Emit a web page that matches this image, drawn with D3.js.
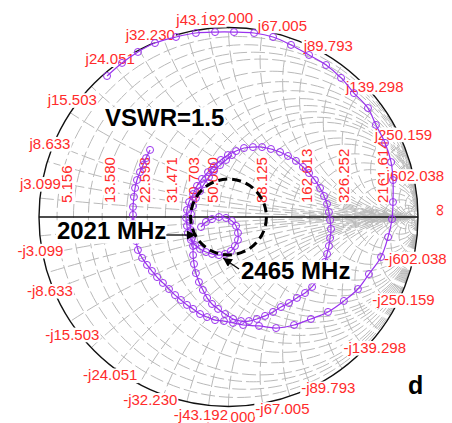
<!DOCTYPE html>
<html>
<head>
<meta charset="utf-8">
<script src="https://cdn.jsdelivr.net/npm/d3@7"></script>
<style>
  html, body { margin: 0; padding: 0; background: #fff; }
  svg { display: block; }
</style>
</head>
<body>
<svg id="chart" width="452" height="423"></svg>
<script>
// ---- Smith chart definition (Z0 = 50 ohm) ----
const z0 = 50;

// Normalised grid circles / arcs
const resistanceGrid = [0.05, 0.1, 0.15, 0.2, 0.3, 0.4, 0.5, 0.6, 0.7, 0.8, 0.9, 1, 1.2, 1.4, 1.6, 2, 2.5, 3, 4, 5, 7, 10, 15, 20, 30, 50];
const reactanceGrid = [0.05, 0.1, 0.15, 0.2, 0.3, 0.4, 0.5, 0.6, 0.7, 0.8, 0.9, 1, 1.2, 1.4, 1.6, 2, 2.5, 3, 4, 5, 7, 10, 15, 20, 30, 50];

// Labelled values in ohms
const resistanceLabels = ["5.156", "13.580", "22.598", "31.471", "40.703", "50.000", "88.125", "162.613", "326.252", "2161.614"];
const reactanceLabels = ["50.000", "3.099", "8.633", "15.503", "24.051", "32.230", "43.192", "67.005", "89.793", "139.298", "250.159", "602.038"];

// Measured reflection coefficient sweeps [re, im]
const outerSweep = [
  [-0.641, 0.744], [-0.562, 0.813], [-0.478, 0.871], [-0.388, 0.918], [-0.277, 0.950], [-0.172, 0.971],
  [-0.071, 0.976], [0.029, 0.976], [0.135, 0.971], [0.235, 0.950], [0.330, 0.908], [0.425, 0.855],
  [0.515, 0.802], [0.594, 0.734], [0.662, 0.654], [0.736, 0.575], [0.778, 0.486], [0.826, 0.391],
  [0.858, 0.290], [0.868, 0.195], [0.868, 0.079], [0.863, -0.011], [0.842, -0.106], [0.805, -0.211],
  [0.741, -0.301], [0.683, -0.380], [0.609, -0.443], [0.525, -0.501], [0.435, -0.538], [0.346, -0.570],
  [0.251, -0.586], [0.161, -0.575], [0.077, -0.570], [0.024, -0.559], [-0.024, -0.549], [-0.071, -0.544],
  [-0.113, -0.528], [-0.150, -0.512], [-0.187, -0.485], [-0.219, -0.464], [-0.251, -0.438], [-0.282, -0.412],
  [-0.314, -0.380], [-0.346, -0.348], [-0.377, -0.317], [-0.404, -0.285], [-0.430, -0.253], [-0.456, -0.216],
  [-0.478, -0.174], [-0.488, -0.127], [-0.499, -0.079], [-0.504, -0.032], [-0.504, 0.011], [-0.504, 0.053],
  [-0.499, 0.106], [-0.493, 0.153], [-0.483, 0.195], [-0.467, 0.237], [-0.451, 0.274], [-0.435, 0.311],
  [-0.414, 0.354]
];

const innerSweep = [
  [0.018, 0.327], [-0.013, 0.301], [-0.045, 0.274], [-0.077, 0.243], [-0.103, 0.211], [-0.129, 0.174],
  [-0.150, 0.137], [-0.172, 0.100], [-0.187, 0.058], [-0.198, 0.016], [-0.203, -0.026], [-0.198, -0.069],
  [-0.193, -0.111], [-0.187, -0.153], [-0.187, -0.201], [-0.182, -0.248], [-0.172, -0.296], [-0.156, -0.343],
  [-0.135, -0.385], [-0.113, -0.427], [-0.087, -0.459], [-0.055, -0.485], [-0.018, -0.512], [0.024, -0.538],
  [0.066, -0.549], [0.108, -0.549], [0.150, -0.538], [0.193, -0.522], [0.235, -0.501], [0.277, -0.475],
  [0.319, -0.454], [0.361, -0.427], [0.404, -0.401], [0.441, -0.369], [0.472, -0.327], [0.493, -0.280],
  [0.509, -0.237], [0.520, -0.195], [0.530, -0.153], [0.536, -0.111], [0.541, -0.063], [0.536, -0.016],
  [0.530, 0.026], [0.520, 0.069], [0.504, 0.111], [0.483, 0.153], [0.456, 0.195], [0.425, 0.232],
  [0.393, 0.264], [0.356, 0.296], [0.314, 0.322], [0.272, 0.343], [0.224, 0.359], [0.177, 0.369],
  [0.129, 0.369], [0.082, 0.364], [0.040, 0.348], [-0.003, 0.327], [-0.040, 0.301], [-0.077, 0.269],
  [-0.108, 0.237], [-0.140, 0.201], [-0.166, 0.164], [-0.187, 0.121], [-0.208, 0.079], [-0.219, 0.037],
  [-0.224, -0.005], [-0.219, -0.047], [-0.214, -0.084], [-0.198, -0.121], [-0.177, -0.148], [-0.150, -0.169],
  [-0.119, -0.185], [-0.087, -0.195], [-0.050, -0.201], [-0.018, -0.195], [0.013, -0.179], [0.034, -0.153],
  [0.050, -0.121], [0.050, -0.084], [0.040, -0.047], [0.018, -0.021], [-0.013, -0.005], [-0.050, 0.000],
  [-0.087, -0.011], [-0.119, -0.026], [-0.145, -0.053]
];

// Band edge annotations: frequency text and the sweep point it refers to [re, im]
const bandLabels = ["2021 MHz", "2465 MHz"];
const bandPoints = [[-0.172, -0.095], [-0.029, -0.216]];

const vswr = 1.5;
const panelTag = "d";

// ---- Drawing ----
const svg = d3.select("#chart");
const x = d3.scaleLinear().domain([-1, 1]).range([39, 418]);
const y = d3.scaleLinear().domain([-1, 1]).range([406.5, 27.5]);
const rad = v => x(v) - x(0);

const gridColor = "#b9b9b9";
const traceColor = "#9a33ee";
const labelColor = "#ff2b2b";
const font = "'Liberation Sans', Arial, sans-serif";

svg.append("defs").append("clipPath").attr("id", "disc")
  .append("circle").attr("cx", x(0)).attr("cy", y(0)).attr("r", rad(1));

svg.select("defs").append("marker")
  .attr("id", "arrow").attr("viewBox", "0 0 10 10")
  .attr("refX", 10).attr("refY", 5)
  .attr("markerWidth", 11).attr("markerHeight", 9)
  .attr("markerUnits", "userSpaceOnUse")
  .attr("orient", "auto")
  .append("path").attr("d", "M0,0 L10,5 L0,10 Z").attr("fill", "#000");

// grid: constant resistance circles and constant reactance arcs
const grid = svg.append("g").attr("clip-path", "url(#disc)")
  .attr("fill", "none").attr("stroke", gridColor).attr("stroke-width", 1)
  .attr("stroke-dasharray", "14,4");

grid.selectAll("circle.r").data(resistanceGrid).join("circle")
  .attr("class", "r")
  .attr("cx", r => x(r / (1 + r))).attr("cy", y(0))
  .attr("r", r => rad(1 / (1 + r)));

const reactanceBoth = reactanceGrid.flatMap(v => [v, -v]);
grid.selectAll("circle.x").data(reactanceBoth).join("circle")
  .attr("class", "x")
  .attr("cx", x(1)).attr("cy", v => y(1 / v))
  .attr("r", v => rad(1 / Math.abs(v)));

// outer boundary and real axis
svg.append("circle").attr("cx", x(0)).attr("cy", y(0)).attr("r", rad(1))
  .attr("fill", "none").attr("stroke", "#111").attr("stroke-width", 1.4);
svg.append("line").attr("x1", x(-1)).attr("x2", x(1)).attr("y1", y(0)).attr("y2", y(0))
  .attr("stroke", "#111").attr("stroke-width", 1.4);

// text with a tight white backing box
function boxedText(g, str, size, weight, color, anchor) {
  const t = g.append("text").text(str)
    .attr("font-family", font).attr("font-size", size).attr("font-weight", weight)
    .attr("fill", color).attr("text-anchor", anchor);
  const bb = t.node().getBBox();
  g.insert("rect", "text")
    .attr("x", bb.x - 1).attr("y", bb.y + bb.height * 0.12)
    .attr("width", bb.width + 2).attr("height", bb.height * 0.86)
    .attr("fill", "#fff");
  return t;
}

// resistance labels along the real axis (rotated)
const rLab = svg.append("g");
resistanceLabels.forEach(s => {
  const r = +s / z0;
  const g0 = (r - 1) / (r + 1);
  const bx = x(g0) - 11 - 11 * g0;
  const g = rLab.append("g").attr("transform", `translate(${bx},${y(0) - 14}) rotate(-90)`);
  boxedText(g, s, 15, "normal", labelColor, "start");
});

// reactance labels round the rim
const xLab = svg.append("g");
reactanceLabels.forEach(s => {
  const v = +s / z0;
  const re = (v * v - 1) / (v * v + 1);
  const im = 2 * v / (v * v + 1);
  [1, -1].forEach(sign => {
    const px = x(re), py = y(sign * im);
    const g = xLab.append("g").attr("transform", `translate(${px},${py + (sign > 0 ? -4.6 : 15.4)})`);
    boxedText(g, (sign > 0 ? "j" : "-j") + s, 15, "normal", labelColor, "middle");
  });
});
xLab.append("text").text("\u221E")
  .attr("transform", `translate(${x(1) + 22},${y(0) - 7}) rotate(90)`)
  .attr("font-family", font).attr("font-size", 17).attr("fill", labelColor)
  .attr("text-anchor", "middle").attr("dominant-baseline", "central");

// sweeps
const line = d3.line().x(d => x(d[0])).y(d => y(d[1])).curve(d3.curveCatmullRom.alpha(0.5));
[outerSweep, innerSweep].forEach(data => {
  const g = svg.append("g");
  g.append("path").datum(data).attr("d", line)
    .attr("fill", "none").attr("stroke", traceColor).attr("stroke-width", 1.2);
  g.selectAll("circle").data(data).join("circle")
    .attr("cx", d => x(d[0])).attr("cy", d => y(d[1])).attr("r", 3.5)
    .attr("fill", "none").attr("stroke", traceColor).attr("stroke-width", 1);
});

// VSWR circle
const gv = (vswr - 1) / (vswr + 1);
svg.append("circle").attr("cx", x(0)).attr("cy", y(0)).attr("r", rad(gv))
  .attr("fill", "none").attr("stroke", "#000").attr("stroke-width", 3)
  .attr("stroke-dasharray", "9,5");

// annotations
const ann = svg.append("g");
{
  const g = ann.append("g").attr("transform", "translate(105,126)");
  boxedText(g, `VSWR=${vswr}`, 24, "bold", "#000", "start");
}
{
  const [re, im] = bandPoints[0];
  const tx = x(re), ty = y(im);
  const g = ann.append("g").attr("transform", `translate(${tx - 139},${ty + 4})`);
  const t = boxedText(g, bandLabels[0], 24, "bold", "#000", "start");
  const w = t.node().getComputedTextLength();
  ann.append("line").attr("x1", tx - 139 + w).attr("y1", ty).attr("x2", tx).attr("y2", ty)
    .attr("stroke", "#000").attr("stroke-width", 1.3).attr("marker-end", "url(#arrow)");
}
{
  const [re, im] = bandPoints[1];
  const tx = x(re), ty = y(im);
  const g = ann.append("g").attr("transform", `translate(${tx + 18},${ty + 21})`);
  boxedText(g, bandLabels[1], 24, "bold", "#000", "start");
  ann.append("line").attr("x1", tx + 16).attr("y1", ty + 11).attr("x2", tx).attr("y2", ty)
    .attr("stroke", "#000").attr("stroke-width", 1.3).attr("marker-end", "url(#arrow)");
}
ann.append("text").text(panelTag)
  .attr("x", 408).attr("y", 394)
  .attr("font-family", font).attr("font-size", 25).attr("font-weight", "bold").attr("fill", "#000");
</script>
</body>
</html>
